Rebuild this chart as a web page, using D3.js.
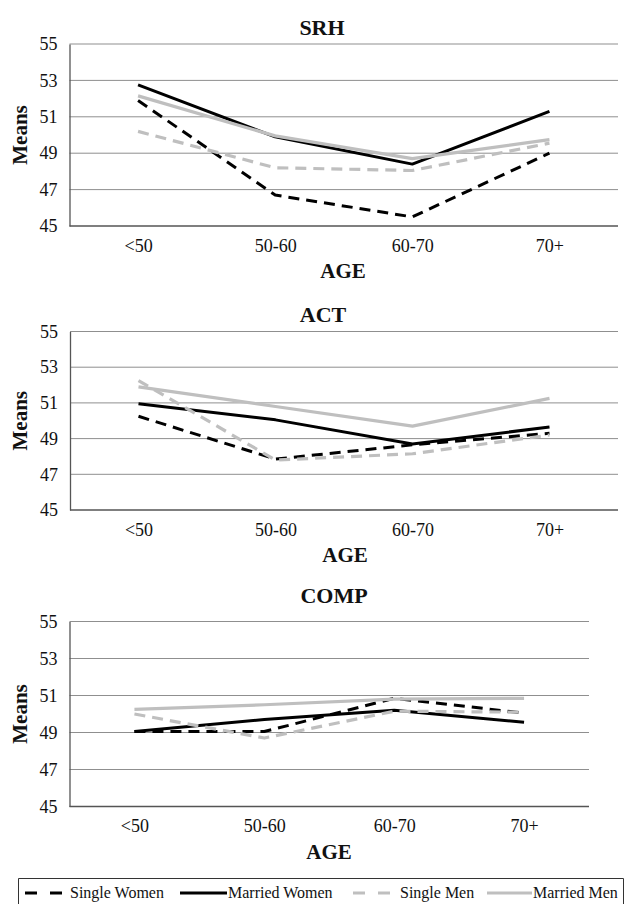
<!DOCTYPE html>
<html>
<head>
<meta charset="utf-8">
<script src="https://cdn.jsdelivr.net/npm/d3@7"></script>
<style>
  html, body { margin: 0; padding: 0; background: #fff; }
  svg { display: block; }
  text { font-family: "Liberation Serif", "Times New Roman", serif; fill: #111; }
</style>
</head>
<body>
<svg id="chart" width="625" height="904"></svg>
<script>
// ---- data ----
const categories = ["<50", "50-60", "60-70", "70+"];
const yTicks = [45, 47, 49, 51, 53, 55];
const seriesNames = ["Single Women", "Married Women", "Single Men", "Married Men"];
const panelTitles = ["SRH", "ACT", "COMP"];
const xAxisTitle = "AGE";
const yAxisTitle = "Means";

const srhSingleWomen  = [51.9, 46.7, 45.5, 49.0];
const srhMarriedWomen = [52.75, 49.9, 48.4, 51.3];
const srhSingleMen    = [50.2, 48.2, 48.05, 49.55];
const srhMarriedMen   = [52.15, 49.95, 48.7, 49.75];

const actSingleWomen  = [50.25, 47.85, 48.65, 49.3];
const actMarriedWomen = [50.95, 50.05, 48.7, 49.65];
const actSingleMen    = [52.25, 47.8, 48.15, 49.2];
const actMarriedMen   = [51.9, 50.8, 49.7, 51.25];

const compSingleWomen  = [49.05, 49.05, 50.85, 50.05];
const compMarriedWomen = [49.05, 49.7, 50.2, 49.55];
const compSingleMen    = [50.0, 48.7, 50.15, 50.1];
const compMarriedMen   = [50.25, 50.5, 50.8, 50.85];

const panelData = [
  [srhSingleWomen, srhMarriedWomen, srhSingleMen, srhMarriedMen],
  [actSingleWomen, actMarriedWomen, actSingleMen, actMarriedMen],
  [compSingleWomen, compMarriedWomen, compSingleMen, compMarriedMen]
];

// ---- styles / layout ----
const seriesStyle = [
  { color: "#000000", dash: "11,7", width: 3 },
  { color: "#000000", dash: null,   width: 3 },
  { color: "#bfbfbf", dash: "11,7", width: 3.2 },
  { color: "#bfbfbf", dash: null,   width: 3.2 }
];

const layouts = [
  { left: 69.5, right: 618, top: 44,    bottom: 226,   titleY: 35,    titleX: 322, ageX: 343 },
  { left: 70,   right: 618, top: 331.5, bottom: 510,   titleY: 321.5, titleX: 323, ageX: 345 },
  { left: 69.5, right: 589, top: 621.5, bottom: 806.5, titleY: 603,   titleX: 334, ageX: 329 }
];

const svg = d3.select("#chart");

panelTitles.forEach((title, p) => {
  const L = layouts[p];
  const g = svg.append("g");
  const x = d3.scalePoint().domain(categories).range([L.left, L.right]).padding(0.5);
  const y = d3.scaleLinear().domain([45, 55]).range([L.bottom, L.top]);

  // gridlines
  g.selectAll("line.grid").data(yTicks.filter(t => t !== 45)).enter().append("line")
    .attr("x1", L.left).attr("x2", L.right)
    .attr("y1", d => y(d)).attr("y2", d => y(d))
    .attr("stroke", "#8f8f8f").attr("stroke-width", 1);

  // y axis
  const yAxis = d3.axisLeft(y).tickValues(yTicks).tickSize(0).tickPadding(12).tickFormat(d3.format("d"));
  const ya = g.append("g").attr("transform", `translate(${L.left},0)`).call(yAxis);
  ya.select(".domain").attr("stroke", "#555").attr("stroke-width", 1.3);
  ya.selectAll("text").attr("font-size", 18).attr("font-family", "Liberation Serif").attr("fill", "#111");

  // x axis
  const xAxis = d3.axisBottom(x).tickSize(0).tickPadding(13);
  const xa = g.append("g").attr("transform", `translate(0,${L.bottom})`).call(xAxis);
  xa.select(".domain").attr("d", `M${L.left},0H${L.right}`).attr("stroke", "#555").attr("stroke-width", 1.6);
  xa.selectAll("text").attr("font-size", 18).attr("font-family", "Liberation Serif").attr("fill", "#111");

  // titles
  g.append("text").attr("x", L.titleX).attr("y", L.titleY).attr("text-anchor", "middle")
    .attr("font-size", 22).attr("font-weight", "bold").text(title);
  g.append("text").attr("x", L.ageX).attr("y", L.bottom + 52).attr("text-anchor", "middle")
    .attr("font-size", 21).attr("font-weight", "bold").text(xAxisTitle);
  g.append("text").attr("transform", `translate(27,${(L.top + L.bottom) / 2}) rotate(-90)`)
    .attr("text-anchor", "middle").attr("font-size", 21).attr("font-weight", "bold").text(yAxisTitle);

  // lines
  const line = d3.line().x((d, i) => x(categories[i])).y(d => y(d));
  panelData[p].forEach((vals, s) => {
    const st = seriesStyle[s];
    g.append("path").datum(vals).attr("d", line)
      .attr("fill", "none").attr("stroke", st.color).attr("stroke-width", st.width)
      .attr("stroke-dasharray", st.dash).attr("stroke-linejoin", "round");
  });
});

// ---- legend ----
const lg = svg.append("g");
lg.append("path").attr("d", "M18.5,910V878.5H623.5V910").attr("fill", "none").attr("stroke", "#333").attr("stroke-width", 1);
const legendItems = [
  { x1: 25, x2: 62, tx: 70 },
  { x1: 180, x2: 227, tx: 228 },
  { x1: 353, x2: 392, tx: 400 },
  { x1: 487, x2: 532, tx: 533 }
];
seriesNames.forEach((name, s) => {
  const it = legendItems[s], st = seriesStyle[s];
  lg.append("line").attr("x1", it.x1).attr("x2", it.x2).attr("y1", 893).attr("y2", 893)
    .attr("stroke", st.color).attr("stroke-width", 3.2)
    .attr("stroke-dasharray", st.dash ? "12,13" : null);
  lg.append("text").attr("x", it.tx).attr("y", 897.5).attr("font-size", 16).text(name);
});
</script>
</body>
</html>
